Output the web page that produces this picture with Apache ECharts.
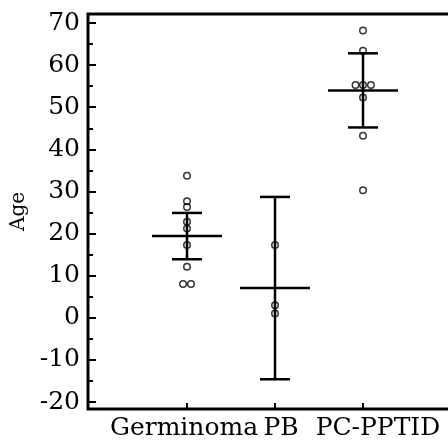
<!DOCTYPE html>
<html>
<head>
<meta charset="utf-8">
<script src="https://cdn.jsdelivr.net/npm/echarts@6/dist/echarts.min.js"></script>
<style>
  html, body { margin: 0; padding: 0; background: #fff; }
  #chart { width: 448px; height: 443px; }
</style>
</head>
<body>
<div id="chart"></div>
<script>
'use strict'

// groups and summary bars (mean, +/- bar ends)
const groups = ['Germinoma', 'PB', 'PC-PPTID'];
const groupX = [1, 2, 3];
const means = [19.4, 7.1, 54];
const barTop = [24.9, 28.7, 62.8];
const barBottom = [13.9, -14.6, 45.2];

// individual ages, [x, age]
const germinomaPts = [[1, 33.7], [1, 27.7], [1, 26.3], [1, 22.8], [1, 21.2], [1, 17.3], [1, 12.1], [0.955, 8], [1.045, 8]];
const pbPts = [[2, 17.3], [2, 3], [2, 1]];
const pcPts = [[3, 68.2], [3, 63.4], [2.915, 55.3], [3, 55.3], [3.09, 55.3], [3, 52.3], [3, 43.2], [3, 30.3]];

// axis ticks
const yMajor = [-20, -10, 0, 10, 20, 30, 40, 50, 60, 70];
const yMinor = [-15, -5, 5, 15, 25, 35, 45, 55, 65];
const xLabelAt = [0.966, 2.068, 3.17];

const font = 'DejaVu Serif';

const chart = echarts.init(document.getElementById('chart'));

const barData = groupX.map((x, i) => [x, means[i], barBottom[i], barTop[i]]);

const option = {
    animation: false,
    grid: {
        left: 88,
        top: 14,
        width: 396,
        height: 395,
        outerBoundsMode: 'none',
        containLabel: false,
        show: true,
        borderColor: '#000',
        borderWidth: 3
    },
    xAxis: {
        type: 'value',
        min: -0.125,
        max: 4.375,
        axisLine: { show: false, onZero: false },
        splitLine: { show: false },
        axisTick: {
            customValues: groupX,
            inside: true,
            length: 6,
            lineStyle: { color: '#000', width: 2 }
        },
        axisLabel: {
            customValues: xLabelAt,
            formatter: v => groups[Math.round(v) - 1],
            hideOverlap: false,
            margin: 7,
            color: '#000',
            fontFamily: font,
            fontSize: 25
        }
    },
    yAxis: [
        {
            type: 'value',
            position: 'left',
            min: -21.66,
            max: 72.14,
            name: 'Age',
            nameLocation: 'middle',
            nameRotate: 90,
            nameGap: 52,
            nameTextStyle: { color: '#000', fontFamily: font, fontSize: 20 },
            axisLine: { show: false, onZero: false },
            splitLine: { show: false },
            axisTick: {
                customValues: yMajor,
                inside: true,
                length: 8,
                lineStyle: { color: '#000', width: 2 }
            },
            axisLabel: {
                customValues: yMajor,
                margin: 8,
                color: '#000',
                fontFamily: font,
                fontSize: 25
            }
        },
        {
            type: 'value',
            position: 'left',
            min: -21.66,
            max: 72.14,
            axisLine: { show: false, onZero: false },
            splitLine: { show: false },
            axisLabel: { show: false },
            axisTick: {
                customValues: yMinor,
                inside: true,
                length: 5,
                lineStyle: { color: '#000', width: 2 }
            }
        }
    ],
    series: [
        {
            type: 'custom',
            data: barData,
            renderItem: function (params, api) {
                const x = api.value(0);
                const m = api.coord([x, api.value(1)]);
                const lo = api.coord([x, api.value(2)]);
                const hi = api.coord([x, api.value(3)]);
                const style = { stroke: '#000', lineWidth: 2.5 };
                return {
                    type: 'group',
                    children: [
                        { type: 'line', shape: { x1: lo[0], y1: lo[1], x2: hi[0], y2: hi[1] }, style: style },
                        { type: 'line', shape: { x1: hi[0] - 15, y1: hi[1], x2: hi[0] + 15, y2: hi[1] }, style: style },
                        { type: 'line', shape: { x1: lo[0] - 15, y1: lo[1], x2: lo[0] + 15, y2: lo[1] }, style: style },
                        { type: 'line', shape: { x1: m[0] - 35, y1: m[1], x2: m[0] + 35, y2: m[1] }, style: style }
                    ]
                };
            }
        },
        {
            type: 'scatter',
            data: germinomaPts.concat(pbPts, pcPts),
            symbol: 'circle',
            symbolSize: 6.5,
            itemStyle: { color: 'rgba(0,0,0,0)', borderColor: '#000', borderWidth: 1.5 }
        }
    ]
};

chart.setOption(option);
</script>
</body>
</html>
